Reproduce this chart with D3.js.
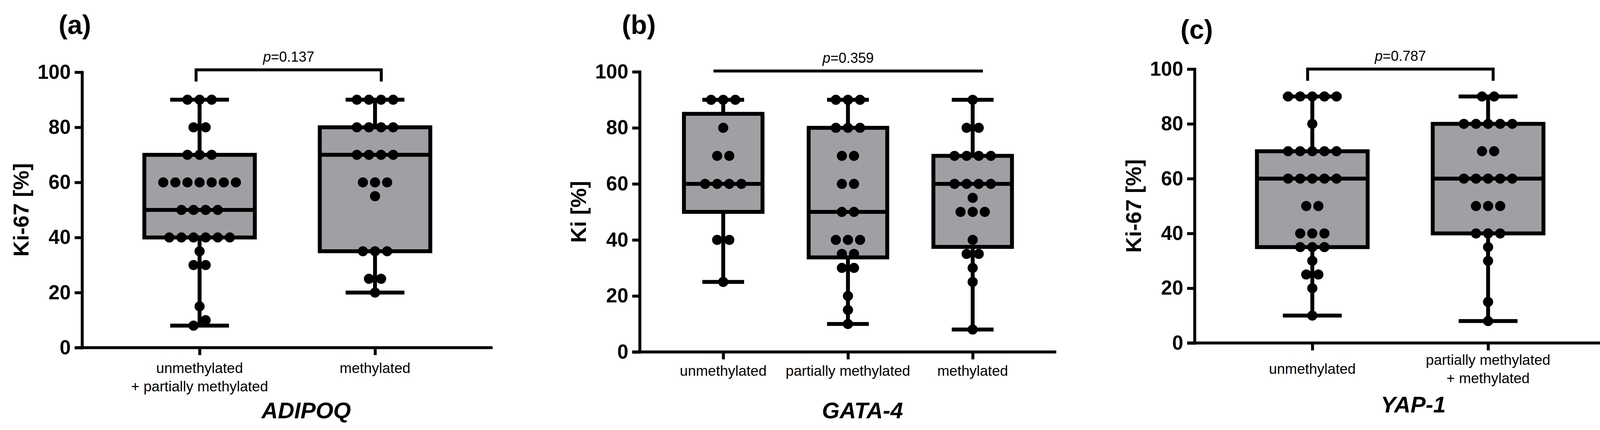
<!DOCTYPE html>
<html>
<head>
<meta charset="utf-8">
<script src="https://cdn.jsdelivr.net/npm/d3@7"></script>
<style>
  html, body { margin: 0; padding: 0; background: #fff; }
  svg { display: block; font-family: "Liberation Sans", Arial, Helvetica, sans-serif; }
</style>
</head>
<body>
<div id="chart"></div>
<script>
// --- values ---
const panelLetters = ["(a)", "(b)", "(c)"];
const genes = ["ADIPOQ", "GATA-4", "YAP-1"];
const yLabels = ["Ki-67 [%]", "Ki [%]", "Ki-67 [%]"];
const pValues = ["0.137", "0.359", "0.787"];
const yTicks = [0, 20, 40, 60, 80, 100];

const adipoqCategories = [["unmethylated", "+ partially methylated"], ["methylated"]];
const adipoqUnmethPartial = [90, 90, 90, 80, 80, 70, 70, 70, 60, 60, 60, 60, 60, 60, 60, 50, 50, 50, 50,
    40, 40, 40, 40, 40, 40, 35, 30, 30, 15, 10, 8];
const adipoqMethylated = [90, 90, 90, 90, 80, 80, 80, 80, 70, 70, 70, 70, 60, 60, 60, 55, 35, 35, 35, 25, 25, 20];

const gata4Categories = [["unmethylated"], ["partially methylated"], ["methylated"]];
const gata4Unmethylated = [90, 90, 90, 80, 70, 70, 60, 60, 60, 60, 40, 40, 25];
const gata4Partial = [90, 90, 90, 80, 80, 80, 70, 70, 60, 60, 50, 50, 40, 40, 40, 35, 35, 30, 30, 20, 15, 10];
const gata4Methylated = [90, 80, 80, 70, 70, 70, 70, 60, 60, 60, 60, 55, 50, 50, 50, 40, 35, 35, 30, 25, 8];

const yap1Categories = [["unmethylated"], ["partially methylated", "+ methylated"]];
const yap1Unmethylated = [90, 90, 90, 90, 90, 80, 70, 70, 70, 70, 70, 60, 60, 60, 60, 60, 50, 50,
    40, 40, 40, 35, 35, 35, 30, 25, 25, 20, 10];
const yap1PartialMethylated = [90, 90, 80, 80, 80, 80, 80, 70, 70, 60, 60, 60, 60, 60, 50, 50, 50,
    40, 40, 40, 35, 30, 15, 8];

// comparison drawn above each panel: [first group, last group, bracket legs?]
const comparisons = [[0, 1, true], [0, 2, false], [0, 1, true]];

const panelData = [
    { cats: adipoqCategories, groups: [adipoqUnmethPartial, adipoqMethylated] },
    { cats: gata4Categories, groups: [gata4Unmethylated, gata4Partial, gata4Methylated] },
    { cats: yap1Categories, groups: [yap1Unmethylated, yap1PartialMethylated] }
];

// --- layout (pixels) ---
const W = 4139, H = 1102;
const layout = [
    { x0: 210, x1: 1261, yTop: 185, yBot: 891, letterX: 150, letterY: 87, titleX: 784, titleY: 1072,
      labMode: "top", labOff: 65, compY: 179, compL: -9, compR: 16 },
    { x0: 1637.5, x1: 2704, yTop: 184, yBot: 902, letterX: 1592, letterY: 87, titleX: 2208, titleY: 1072,
      labMode: "top", labOff: 61, compY: 182, compL: -25, compR: 26 },
    { x0: 3058, x1: 4111, yTop: 177, yBot: 879, letterX: 3022, letterY: 99, titleX: 3618, titleY: 1057,
      labMode: "center", labOff: 79, compY: 177, compL: -12, compR: 13 }
];
const DOT_R = 13, DOT_STEP = 31, AXIS_W = 7.5, BOX_W = 10, TICK = 19, LINE_H = 47;
const boxFill = "#a09fa4";

// quartiles, (n+1)p rule
function quant(sorted, p) {
    const pos = (sorted.length + 1) * p;
    const lo = Math.max(1, Math.min(sorted.length, Math.floor(pos)));
    const hi = Math.max(1, Math.min(sorted.length, Math.ceil(pos)));
    return sorted[lo - 1] + (pos - Math.floor(pos)) * (sorted[hi - 1] - sorted[lo - 1]);
}

function dotLayout(values, y) {
    const rows = d3.groups(values, v => v).sort((a, b) => a[0] - b[0]);
    const offs = rows.map(([, arr]) => arr.map((_, k) => (k - (arr.length - 1) / 2) * DOT_STEP));
    for (let r = 1; r < rows.length; r++) {
        if (rows[r][1].length === 1 && rows[r - 1][1].length === 1 &&
            Math.abs(y(rows[r][0]) - y(rows[r - 1][0])) < 2 * DOT_R) {
            offs[r][0] += DOT_STEP / 2;
            offs[r - 1][0] -= DOT_STEP / 2;
        }
    }
    return rows.flatMap(([v, arr], r) => arr.map((_, k) => ({ v, dx: offs[r][k] })));
}

const svg = d3.select("#chart").append("svg")
    .attr("width", W)
    .attr("height", H);
svg.append("rect").attr("width", W).attr("height", H).attr("fill", "#fff");

panelData.forEach((pd, i) => {
    const L = layout[i];
    const g = svg.append("g");
    const keys = pd.cats.map(c => c.join(" "));

    const x = d3.scalePoint().domain(keys).range([L.x0, L.x1]).padding(0.67);
    const y = d3.scaleLinear().domain([0, 100]).range([L.yBot, L.yTop]);
    const step = x.step();

    // y axis
    const yAxis = g.append("g")
        .attr("transform", `translate(${L.x0},0)`)
        .call(d3.axisLeft(y).tickValues(yTicks).tickSize(TICK).tickSizeOuter(0).tickPadding(10));
    yAxis.select(".domain").attr("stroke", "#000").attr("stroke-width", AXIS_W).attr("stroke-linecap", "square");
    yAxis.selectAll(".tick line").attr("stroke", "#000").attr("stroke-width", AXIS_W);
    yAxis.selectAll(".tick text")
        .attr("fill", "#000")
        .attr("font-size", 51)
        .attr("font-weight", "bold")
        .attr("font-family", "'Liberation Sans', Arial, sans-serif");

    // x axis
    g.append("line")
        .attr("x1", L.x0 - TICK).attr("x2", L.x1)
        .attr("y1", L.yBot).attr("y2", L.yBot)
        .attr("stroke", "#000").attr("stroke-width", AXIS_W);
    const xAxis = g.append("g")
        .attr("transform", `translate(0,${L.yBot})`)
        .call(d3.axisBottom(x).tickSize(TICK).tickFormat(""));
    xAxis.select(".domain").remove();
    xAxis.selectAll(".tick line").attr("stroke", "#000").attr("stroke-width", AXIS_W);

    // category labels
    pd.cats.forEach((lines, c) => {
        const t = g.append("text")
            .attr("text-anchor", "middle")
            .attr("font-size", 37)
            .attr("fill", "#000");
        lines.forEach((ln, j) => {
            const base = L.labMode === "top"
                ? L.yBot + L.labOff + j * LINE_H
                : L.yBot + L.labOff + (j - (lines.length - 1) / 2) * LINE_H;
            t.append("tspan").attr("x", x(keys[c])).attr("y", base).text(ln);
        });
    });

    // boxes
    const boxW = step * 0.63, capW = step * 0.335;
    pd.groups.forEach((vals, c) => {
        const cx = x(keys[c]);
        const s = vals.slice().sort(d3.ascending);
        const q1 = quant(s, 0.25), med = quant(s, 0.5), q3 = quant(s, 0.75);
        const lo = d3.min(s), hi = d3.max(s);

        g.append("line").attr("x1", cx).attr("x2", cx).attr("y1", y(hi)).attr("y2", y(lo))
            .attr("stroke", "#000").attr("stroke-width", BOX_W);
        [lo, hi].forEach(v => {
            g.append("line").attr("x1", cx - capW / 2).attr("x2", cx + capW / 2)
                .attr("y1", y(v)).attr("y2", y(v))
                .attr("stroke", "#000").attr("stroke-width", BOX_W);
        });
        g.append("rect")
            .attr("x", cx - boxW / 2).attr("width", boxW)
            .attr("y", y(q3)).attr("height", y(q1) - y(q3))
            .attr("fill", boxFill).attr("stroke", "#000").attr("stroke-width", BOX_W);
        g.append("line").attr("x1", cx - boxW / 2).attr("x2", cx + boxW / 2)
            .attr("y1", y(med)).attr("y2", y(med))
            .attr("stroke", "#000").attr("stroke-width", BOX_W);

        g.selectAll(null)
            .data(dotLayout(vals, y))
            .enter().append("circle")
            .attr("cx", d => cx + d.dx)
            .attr("cy", d => y(d.v))
            .attr("r", DOT_R)
            .attr("fill", "#000");
    });

    // comparison bracket + p-value
    const [ca, cb, legs] = comparisons[i];
    const bx1 = x(keys[ca]) + L.compL, bx2 = x(keys[cb]) + L.compR;
    const path = legs
        ? `M${bx1},${L.compY + 30}V${L.compY}H${bx2}V${L.compY + 30}`
        : `M${bx1},${L.compY}H${bx2}`;
    g.append("path").attr("d", path).attr("fill", "none")
        .attr("stroke", "#000").attr("stroke-width", AXIS_W);
    const pt = g.append("text")
        .attr("x", (bx1 + bx2) / 2).attr("y", L.compY - 21)
        .attr("text-anchor", "middle").attr("font-size", 36).attr("fill", "#000");
    pt.append("tspan").attr("font-style", "italic").text("p");
    pt.append("tspan").text("=" + pValues[i]);

    // y label
    g.append("text")
        .attr("transform", `translate(${L.x0 - 157},${(L.yTop + L.yBot) / 2}) rotate(-90)`)
        .attr("text-anchor", "middle").attr("dy", "0.35em")
        .attr("font-size", 56).attr("font-weight", "bold").attr("fill", "#000")
        .text(yLabels[i]);

    // gene title
    g.append("text")
        .attr("x", L.titleX).attr("y", L.titleY)
        .attr("text-anchor", "middle")
        .attr("font-size", 58).attr("font-weight", "bold").attr("font-style", "italic")
        .attr("fill", "#000")
        .text(genes[i]);

    // panel letter
    g.append("text")
        .attr("x", L.letterX).attr("y", L.letterY)
        .attr("font-size", 68).attr("font-weight", "bold").attr("fill", "#000")
        .text(panelLetters[i]);
});
</script>
</body>
</html>
